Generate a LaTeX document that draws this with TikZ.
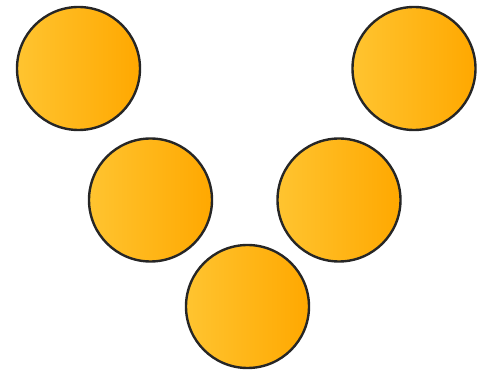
\documentclass[tikz,border=0pt]{standalone}
\usepackage{tikz}
\usepackage{xcolor}
\definecolor{balllight}{HTML}{FFC430}
\definecolor{balldark}{HTML}{FFA800}

\begin{document}
\begin{tikzpicture}[
    x=1pt, y=-1pt,
    ball/.style={circle, draw=black!85, line width=2.4pt, minimum size=123pt, inner sep=0pt,
                 left color=balllight, right color=balldark}
]
    \useasboundingbox (0,0) rectangle (483,374);

    % Top row
    \node[ball] (topleft) at (78.5, 68.5) {};
    \node[ball] (topright) at (414, 68.5) {};

    % Middle row
    \node[ball] (midleft) at (150.5, 200) {};
    \node[ball] (midright) at (339, 200) {};

    % Bottom
    \node[ball] (bottom) at (247.5, 306.5) {};
\end{tikzpicture}
\end{document}
